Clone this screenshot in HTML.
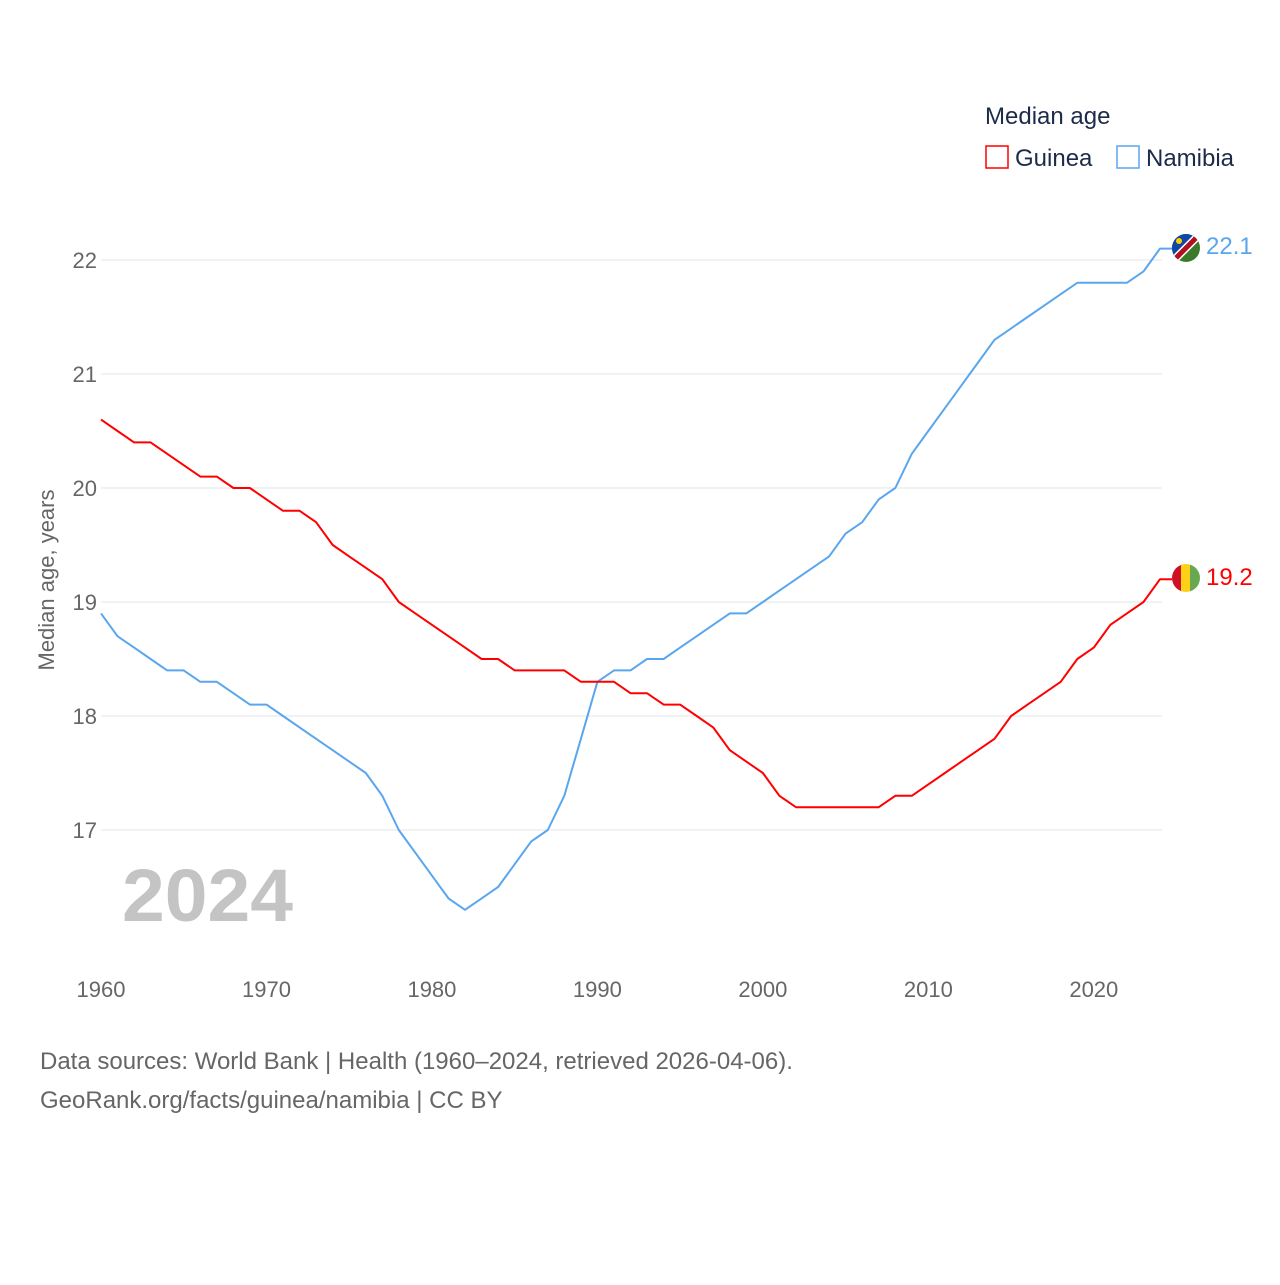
<!DOCTYPE html>
<html><head><meta charset="utf-8">
<style>
html,body{margin:0;padding:0;background:#fff;}
body{width:1280px;height:1280px;overflow:hidden;font-family:"Liberation Sans",sans-serif;}
</style></head>
<body>
<svg width="1280" height="1280" xmlns="http://www.w3.org/2000/svg" font-family="Liberation Sans, sans-serif">
<g id="grid"></g>
<g id="yticks"></g>
<g id="xticks"></g>
<text x="54" y="580" transform="rotate(-90 54 580)" text-anchor="middle" font-size="22" fill="#666">Median age, years</text>
<text x="122" y="921" font-size="74" font-weight="bold" fill="#c4c4c4" textLength="171" lengthAdjust="spacingAndGlyphs">2024</text>
<g id="series"></g>
<g>
<text x="985" y="124" font-size="24" fill="#1d2b4a">Median age</text>
<g><rect x="986" y="146" width="22" height="22" fill="none" stroke="#f00" stroke-width="1.5"/><text x="1015" y="166" font-size="24" fill="#1d2b4a">Guinea</text></g>
<g><rect x="1117" y="146" width="22" height="22" fill="none" stroke="#5aa6ee" stroke-width="1.5"/><text x="1146" y="166" font-size="24" fill="#1d2b4a">Namibia</text></g>
</g>
<g id="flags">
<g>
<clipPath id="cn"><circle cx="1186" cy="248" r="14"/></clipPath>
<g clip-path="url(#cn)"><rect x="1172" y="234" width="28" height="28" fill="#3a7a2a"/><polygon points="1172,234 1200,234 1172,262" fill="#1046a8"/><line x1="1200" y1="234" x2="1172" y2="262" stroke="#fff" stroke-width="8"/><line x1="1200" y1="234" x2="1172" y2="262" stroke="#b01020" stroke-width="5"/><circle cx="1179" cy="241" r="3" fill="#ffce00"/></g>
</g>
<g>
<clipPath id="cg"><circle cx="1186" cy="578" r="14"/></clipPath>
<g clip-path="url(#cg)"><rect x="1172" y="564" width="10" height="28" fill="#ce1126"/><rect x="1181" y="564" width="10" height="28" fill="#fcd116"/><rect x="1190" y="564" width="10" height="28" fill="#6aa84f"/></g>
</g>
</g>
<text x="1206" y="254" font-size="24" fill="#5aa6ee">22.1</text>
<text x="1206" y="585" font-size="24" fill="#f00">19.2</text>
<text x="40" y="1069" font-size="24" fill="#666">Data sources: World Bank | Health (1960–2024, retrieved 2026-04-06).</text>
<text x="40" y="1108" font-size="24" fill="#666">GeoRank.org/facts/guinea/namibia | CC BY</text>
</svg>
<script>
const years=[];for(let y=1960;y<=2024;y++)years.push(y);
const guinea=[20.6,20.5,20.4,20.4,20.3,20.2,20.1,20.1,20.0,20.0,19.9,19.8,19.8,19.7,19.5,19.4,19.3,19.2,19.0,18.9,18.8,18.7,18.6,18.5,18.5,18.4,18.4,18.4,18.4,18.3,18.3,18.3,18.2,18.2,18.1,18.1,18.0,17.9,17.7,17.6,17.5,17.3,17.2,17.2,17.2,17.2,17.2,17.2,17.3,17.3,17.4,17.5,17.6,17.7,17.8,18.0,18.1,18.2,18.3,18.5,18.6,18.8,18.9,19.0,19.2];
const namibia=[18.9,18.7,18.6,18.5,18.4,18.4,18.3,18.3,18.2,18.1,18.1,18.0,17.9,17.8,17.7,17.6,17.5,17.3,17.0,16.8,16.6,16.4,16.3,16.4,16.5,16.7,16.9,17.0,17.3,17.8,18.3,18.4,18.4,18.5,18.5,18.6,18.7,18.8,18.9,18.9,19.0,19.1,19.2,19.3,19.4,19.6,19.7,19.9,20.0,20.3,20.5,20.7,20.9,21.1,21.3,21.4,21.5,21.6,21.7,21.8,21.8,21.8,21.8,21.9,22.1];
const yTicks=[17,18,19,20,21,22];
const xTicks=[1960,1970,1980,1990,2000,2010,2020];
const X=y=>101+(y-1960)*(1160-101)/64;
const Y=v=>830-(v-17)*114;
const NS="http://www.w3.org/2000/svg";
function mk(tag,attrs,parent){const e=document.createElementNS(NS,tag);for(const k in attrs)e.setAttribute(k,attrs[k]);parent.appendChild(e);return e;}
const grid=document.getElementById('grid'),yt=document.getElementById('yticks'),xt=document.getElementById('xticks'),ser=document.getElementById('series');
yTicks.forEach(v=>{
 const l=mk('line',{x1:101,x2:1162,y1:Y(v),y2:Y(v),stroke:'#e6e6e6','stroke-width':1},grid);
 
 
 const t=mk('text',{x:97,y:Y(v)+8,'text-anchor':'end','font-size':22,fill:'#666'},yt);
 t.textContent=v;
 
 
});
xTicks.forEach(v=>{
 const t=mk('text',{x:X(v),y:997,'text-anchor':'middle','font-size':22,fill:'#666'},xt);
 t.textContent=v;
 
 
});
function line(vals,color,name){
 let d=vals.map((v,i)=>(i?'L':'M')+X(years[i]).toFixed(1)+','+Y(v).toFixed(1)).join(' ');
 d+=' L1172,'+Y(vals[vals.length-1]).toFixed(1);
 const p=mk('path',{d:d,fill:'none',stroke:color,'stroke-width':2,'stroke-linejoin':'round'},ser);
 
 
}
line(namibia,'#5aa6ee','namibia-line');
line(guinea,'#f00','guinea-line');
</script>
</body></html>
